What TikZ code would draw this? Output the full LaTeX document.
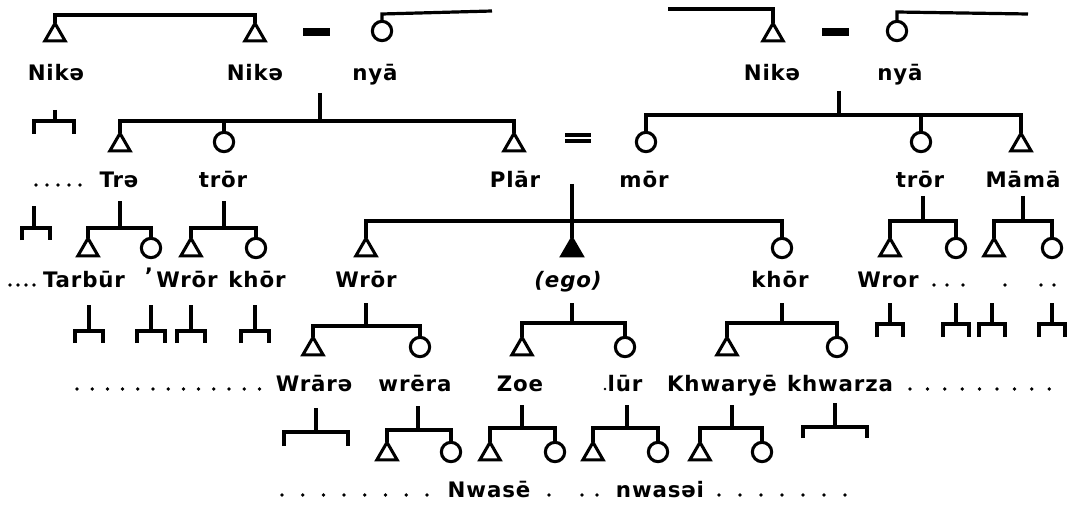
\documentclass[tikz,border=0pt]{standalone}
\usepackage{fontspec}
\setmainfont{DejaVu Sans}[LetterSpace=4]
\usetikzlibrary{shapes.geometric}
\begin{document}
\begin{tikzpicture}[x=0.75pt,y=-0.75pt,
  ln/.style={line width=2.4pt},
  male/.style={regular polygon, regular polygon sides=3, draw, line width=2.3pt, minimum size=17.5pt, inner sep=0pt, outer sep=0pt},
  female/.style={circle, draw, line width=2.3pt, minimum size=14.5pt, inner sep=0pt, outer sep=0pt},
  egom/.style={male, fill=black},
  lbl/.style={font=\fontsize{16}{19}\selectfont\bfseries, anchor=base, inner sep=0pt},
  dt/.style={circle, fill=black, inner sep=0pt, minimum size=2.8pt},
]
\useasboundingbox (0,0) rectangle (1076,510);

% ---------- generation 1
\node[male] (nk1) at (55,35) {};
\node[male] (nk2) at (255,35) {};
\node[female] (ny1) at (382,31) {};
\node[male] (nk3) at (773,35) {};
\node[female] (ny2) at (897,31) {};
\node[lbl] (lnk1) at (56,81) {Nikə};
\node[lbl] (lnk2) at (255,81) {Nikə};
\node[lbl] (lny1) at (375,81) {nyā};
\node[lbl] (lnk3) at (772,81) {Nikə};
\node[lbl] (lny2) at (900,81) {nyā};
\coordinate (t1) at (155,15);
\draw[ln] (nk1.north) |- (t1) -| (nk2.north);
\coordinate (t2) at (382,14); \coordinate (t2e) at (492,11);
\draw[ln] (ny1.north) -- (t2) -- (t2e);
\coordinate (t3s) at (668,9); \coordinate (t3) at (773,9);
\draw[ln] (t3s) -- (t3) -- (nk3.north);
\coordinate (t4) at (897,12); \coordinate (t4e) at (1028,14);
\draw[ln] (ny2.north) -- (t4) -- (t4e);
\draw[ln] (303,30) -- (330,30) (303,34) -- (330,34);
\draw[ln] (822,30) -- (849,30) (822,34) -- (849,34);

% ---------- generation 2
\node[male] (tra) at (120,145) {};
\node[female] (tror1) at (224,142) {};
\node[male] (plar) at (514,145) {};
\node[female] (mor) at (646,142) {};
\node[female] (tror2) at (921,142) {};
\node[male] (mama) at (1021,145) {};
\draw[ln] (565,135) -- (591,135) (565,141) -- (591,141);
\node[lbl] (ltra) at (119,187) {Trə};
\node[lbl] (ltror1) at (223,187) {trōr};
\node[lbl] (lplar) at (515,187) {Plār};
\node[lbl] (lmor) at (644,187) {mōr};
\node[lbl] (ltror2) at (920,187) {trōr};
\node[lbl] (lmama) at (1023,187) {Māmā};
\foreach \x in {36,47,58,69,80} \node[dt] at (\x,185) {};

% gen1 -> gen2
\coordinate (s0) at (55,110); \coordinate (b0) at (55,121);
\coordinate (b0l) at (34,134); \coordinate (b0r) at (74,134);
\draw[ln] (s0) -- (b0); \draw[ln] (b0l) |- (b0) -| (b0r);
\coordinate (s1) at (320,93); \coordinate (b1) at (320,121);
\draw[ln] (s1) -- (b1);
\draw[ln] (tra.north) |- (b1) -| (plar.north);
\draw[ln] (tror1.north) -- (tror1.north |- b1);
\coordinate (s2) at (839,91); \coordinate (b2) at (839,115);
\draw[ln] (s2) -- (b2);
\draw[ln] (mor.north) |- (b2) -| (mama.north);
\draw[ln] (tror2.north) -- (tror2.north |- b2);

% ---------- generation 3
\node[male] (tarbur) at (88,250) {};
\node[female] (trc2) at (151,248) {};
\node[male] (wror1) at (191,250) {};
\node[female] (khor1) at (256,248) {};
\node[male] (wror2) at (366,250) {};
\node[egom] (ego) at (572,250) {};
\node[female] (khor2) at (782,248) {};
\node[male] (wror3) at (890,250) {};
\node[female] (tc2) at (956,248) {};
\node[male] (mc1) at (994,250) {};
\node[female] (mc2) at (1052,248) {};

% gen2 -> gen3
\coordinate (s3) at (34,206); \coordinate (b3) at (34,228);
\coordinate (b3l) at (22,240); \coordinate (b3r) at (50,240);
\draw[ln] (s3) -- (b3); \draw[ln] (b3l) |- (b3) -| (b3r);
\coordinate (s4) at (120,201); \coordinate (b4) at (120,228);
\draw[ln] (s4) -- (b4); \draw[ln] (tarbur.north) |- (b4) -| (trc2.north);
\coordinate (s5) at (224,201); \coordinate (b5) at (224,228);
\draw[ln] (s5) -- (b5); \draw[ln] (wror1.north) |- (b5) -| (khor1.north);
\coordinate (s6) at (572,184); \coordinate (b6) at (572,221);
\draw[ln] (s6) -- (ego.north); \draw[ln] (wror2.north) |- (b6) -| (khor2.north);
\coordinate (s7) at (923,196); \coordinate (b7) at (923,221);
\draw[ln] (s7) -- (b7); \draw[ln] (wror3.north) |- (b7) -| (tc2.north);
\coordinate (s8) at (1023,196); \coordinate (b8) at (1023,221);
\draw[ln] (s8) -- (b8); \draw[ln] (mc1.north) |- (b8) -| (mc2.north);

\node[lbl] (ltarbur) at (84,287) {Tarbūr};
\node[lbl] (lapos) at (149,283) {'};
\node[lbl] (lwror1) at (187,287) {Wrōr};
\node[lbl] (lkhor1) at (257,287) {khōr};
\node[lbl] (lwror2) at (366,287) {Wrōr};
\node[lbl, font=\fontsize{16}{19}\selectfont\bfseries\itshape] (lego) at (568,287) {(ego)};
\node[lbl] (lkhor2) at (780,287) {khōr};
\node[lbl] (lwror3) at (888,287) {Wror};
\foreach \x in {10,18,26,34,934,947,963,1005,1041,1054} \node[dt] at (\x,285) {};

% gen3 -> gen4
\foreach \x/\n in {89/a,151/b,191/c,255/d} {
  \coordinate (sb\n) at (\x,305); \coordinate (bb\n) at (\x,331);
  \coordinate (lb\n) at (\x-14,343); \coordinate (rb\n) at (\x+14,343);
  \draw[ln] (sb\n) -- (bb\n); \draw[ln] (lb\n) |- (bb\n) -| (rb\n);
}
\foreach \x/\n in {890/e,956/f,992/g,1052/h} {
  \coordinate (sb\n) at (\x,303); \coordinate (bb\n) at (\x,324);
  \coordinate (lb\n) at (\x-13,337); \coordinate (rb\n) at (\x+13,337);
  \draw[ln] (sb\n) -- (bb\n); \draw[ln] (lb\n) |- (bb\n) -| (rb\n);
}

% ---------- generation 4
\node[male] (wrara) at (313,349) {};
\node[female] (wrera) at (420,347) {};
\node[male] (zoe) at (522,349) {};
\node[female] (lur) at (625,347) {};
\node[male] (khwarye) at (727,349) {};
\node[female] (khwarza) at (837,347) {};
\coordinate (s9) at (366,303); \coordinate (b9) at (366,326);
\draw[ln] (s9) -- (b9); \draw[ln] (wrara.north) |- (b9) -| (wrera.north);
\coordinate (s10) at (572,303); \coordinate (b10) at (572,323);
\draw[ln] (s10) -- (b10); \draw[ln] (zoe.north) |- (b10) -| (lur.north);
\coordinate (s11) at (782,303); \coordinate (b11) at (782,323);
\draw[ln] (s11) -- (b11); \draw[ln] (khwarye.north) |- (b11) -| (khwarza.north);

\node[lbl] (lwrara) at (314,391) {Wrārə};
\node[lbl] (lwrera) at (415,391) {wrēra};
\node[lbl] (lzoe) at (520,391) {Zoe};
\node[lbl] (llur) at (625,391) {lūr};
\node[lbl] (lkhwarye) at (722,391) {Khwaryē};
\node[lbl] (lkhwarza) at (840,391) {khwarza};
\foreach \i in {0,...,12} \node[dt] at (77+\i*15.2,389) {};
\node[dt, minimum size=2pt] at (605,389) {};
\foreach \i in {0,...,8} \node[dt] at (910+\i*17.4,389) {};

% ---------- generation 5
\coordinate (s12) at (316,408); \coordinate (b12) at (316,432);
\coordinate (b12l) at (284,446); \coordinate (b12r) at (348,446);
\draw[ln] (s12) -- (b12); \draw[ln] (b12l) |- (b12) -| (b12r);
\node[male] (g5a) at (387,454) {};
\node[female] (g5b) at (451,452) {};
\node[male] (nwase) at (490,454) {};
\node[female] (g5d) at (555,452) {};
\node[male] (g5e) at (593,454) {};
\node[female] (nwasei) at (658,452) {};
\node[male] (g5g) at (700,454) {};
\node[female] (g5h) at (762,452) {};
\coordinate (s13) at (418,406); \coordinate (b13) at (418,430);
\draw[ln] (s13) -- (b13); \draw[ln] (g5a.north) |- (b13) -| (g5b.north);
\coordinate (s14) at (522,405); \coordinate (b14) at (522,428);
\draw[ln] (s14) -- (b14); \draw[ln] (nwase.north) |- (b14) -| (g5d.north);
\coordinate (s15) at (627,405); \coordinate (b15) at (627,428);
\draw[ln] (s15) -- (b15); \draw[ln] (g5e.north) |- (b15) -| (nwasei.north);
\coordinate (s16) at (732,405); \coordinate (b16) at (732,428);
\draw[ln] (s16) -- (b16); \draw[ln] (g5g.north) |- (b16) -| (g5h.north);
\coordinate (s17) at (835,403); \coordinate (b17) at (835,427);
\coordinate (b17l) at (803,438); \coordinate (b17r) at (867,438);
\draw[ln] (s17) -- (b17); \draw[ln] (b17l) |- (b17) -| (b17r);

\node[lbl] (lnwase) at (489,497) {Nwasē};
\node[lbl] (lnwasei) at (660,497) {nwasəi};
\foreach \i in {0,...,7} \node[dt] at (282+\i*20.7,495) {};
\foreach \x in {549,582,597} \node[dt] at (\x,495) {};
\foreach \i in {0,...,6} \node[dt] at (719+\i*21,495) {};
\end{tikzpicture}
\end{document}
